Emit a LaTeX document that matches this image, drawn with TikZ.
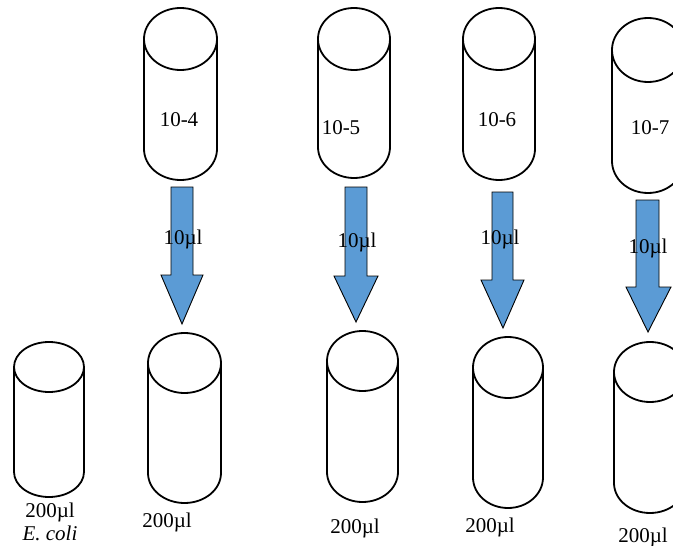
\documentclass[tikz,border=0pt]{standalone}
\usepackage{fontspec}
\setmainfont{Liberation Serif}
\tikzset{
  cylline/.style={draw=black, line width=1.8pt},
  blockarrow/.style={draw=black, line width=0.9pt, fill=arrowblue},
  lbl/.style={inner sep=0pt, font=\fontsize{21}{23}\selectfont}
}
\definecolor{arrowblue}{HTML}{5B9BD5}
\newcommand{\tube}[5]{% cx, top, bottom, rx, ry
  \pgfmathsetmacro{\tcy}{#2+#5}
  \pgfmathsetmacro{\tby}{#3-#5}
  \pgfmathsetmacro{\tlx}{#1-#4}
  \pgfmathsetmacro{\trx}{#1+#4}
  \draw[cylline] (#1,\tcy) ellipse [x radius=#4, y radius=#5];
  \draw[cylline] (\tlx,\tcy) -- (\tlx,\tby) arc[start angle=180, end angle=0, x radius=#4, y radius=#5] -- (\trx,\tcy);
}
\newcommand{\blockarr}[8]{% sl, sr, st, hs, hl, hr, tipx, tipy
  \draw[blockarrow] (#1,#3) -- (#2,#3) -- (#2,#4) -- (#6,#4) -- (#7,#8) -- (#5,#4) -- (#1,#4) -- cycle;
}
\begin{document}
\begin{tikzpicture}[x=1pt,y=-1pt]
\useasboundingbox (0,0) rectangle (673,546);
% top tubes
\tube{180.5}{8}{180}{36.5}{31}
\tube{354}{8}{178}{36}{31}
\tube{499}{8}{180}{36}{31}
\tube{648}{18}{193}{36}{32}
% bottom tubes
\tube{49}{342}{497}{35}{25}
\tube{184.5}{333}{503}{36.5}{30}
\tube{362.5}{331}{502}{35.5}{30}
\tube{508}{337}{508}{35}{30.5}
\tube{650}{342}{513}{36}{30}
% arrows
\blockarr{171}{193}{187}{275}{161}{203}{182}{324}
\blockarr{345}{367}{187}{276}{334}{378}{356}{322}
\blockarr{492}{513}{192}{280}{481}{524}{503}{328}
\blockarr{636}{659}{200}{287}{626}{671}{648}{332}
% labels
\node[lbl] (d4) at (179,120) {10-4};
\node[lbl] (d5) at (341,128) {10-5};
\node[lbl] (d6) at (497,120) {10-6};
\node[lbl] (d7) at (650,128) {10-7};
\node[lbl] (v1) at (183,239) {10µl};
\node[lbl] (v2) at (357,242) {10µl};
\node[lbl] (v3) at (500,239) {10µl};
\node[lbl] (v4) at (648,248) {10µl};
\node[lbl] (b0) at (50,512) {200µl};
\node[lbl] (ec) at (50,533) {\itshape E. coli};
\node[lbl] (b1) at (167,522) {200µl};
\node[lbl] (b2) at (355,528) {200µl};
\node[lbl] (b3) at (490,527) {200µl};
\node[lbl] (b4) at (643,537) {200µl};
\end{tikzpicture}
\end{document}
